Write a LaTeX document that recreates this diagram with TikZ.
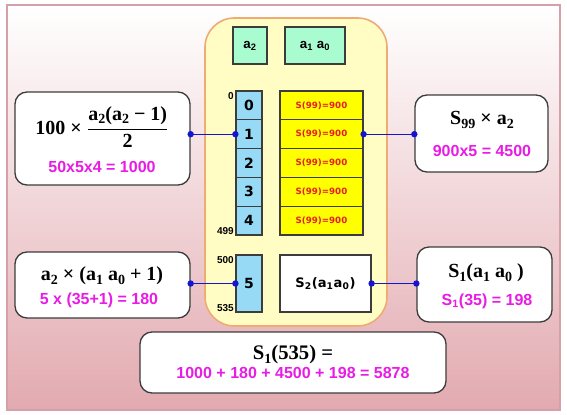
\documentclass[tikz,border=0pt]{standalone}
\usepackage{fontspec}
\usepackage{amsmath}
\newfontfamily\arl{Liberation Sans}
\newfontfamily\srf{Liberation Serif}
\newfontfamily\dvs{DejaVu Sans}
\usetikzlibrary{calc}
\newcommand\mysub[1]{\raisebox{-0.35ex}{\fontsize{10.5}{11}\selectfont #1}}
\definecolor{bgpink}{RGB}{226,170,176}
\definecolor{framecol}{RGB}{214,160,168}
\definecolor{contfill}{RGB}{255,252,196}
\definecolor{contdraw}{RGB}{240,170,115}
\definecolor{mintg}{RGB}{168,252,208}
\definecolor{skyb}{RGB}{150,218,245}
\definecolor{cellyel}{RGB}{255,255,0}
\definecolor{mag}{RGB}{232,28,228}
\definecolor{redt}{RGB}{230,30,30}
\definecolor{conn}{RGB}{20,20,210}
\definecolor{edge}{RGB}{60,60,60}
\tikzset{
  wh/.style 2 args={minimum width=#1*0.75pt, minimum height=#2*0.75pt, inner sep=0pt},
  rbox/.style={draw=edge, line width=1pt, fill=white, rounded corners=9pt},
  gbox/.style={draw=edge, line width=0.9pt, fill=mintg, font=\arl\bfseries\fontsize{10}{12}\selectfont},
  bcell/.style={draw=edge, line width=0.9pt, fill=skyb, wh={26}{28.8}, font=\dvs\bfseries\fontsize{10.5}{12}\selectfont},
  ycell/.style={draw=edge, line width=0.9pt, fill=cellyel, wh={83}{28.8}, text=redt, font=\dvs\bfseries\fontsize{6.5}{8}\selectfont},
  mtxt/.style={font=\srf\bfseries\fontsize{15}{17}\selectfont},
  magt/.style={text=mag, font=\arl\bfseries\fontsize{12}{14}\selectfont},
  lbl/.style={font=\arl\bfseries\fontsize{7.5}{9}\selectfont, inner sep=0pt},
  wire/.style={conn, line width=0.8pt},
  dotc/.style={fill=conn},
}
\begin{document}
\begin{tikzpicture}[x=0.75pt,y=-0.75pt]
\useasboundingbox (0,0) rectangle (567,414);
\fill[white] (0,0) rectangle (567,414);
\draw[framecol, line width=0.8pt, top color=white, bottom color=bgpink] (7,5) rectangle (560,410);

% container
\draw[contdraw, line width=1.2pt, fill=contfill, rounded corners=22pt] (205,18) rectangle (387,326);

% top green boxes
\node[gbox, wh={34}{37}] (ga2) at (250,45.5) {a\textsubscript{2}};
\node[gbox, wh={60}{37}] (ga10) at (315,45.5) {a\textsubscript{1} a\textsubscript{0}};

% blue column and yellow cells
\node[bcell] (c0) at (249,105.4) {0};
\node[bcell] (c1) at (249,134.2) {1};
\node[bcell] (c2) at (249,163.0) {2};
\node[bcell] (c3) at (249,191.8) {3};
\node[bcell] (c4) at (249,220.6) {4};
\node[ycell] (y0) at (321.5,105.4) {S(99)=900};
\node[ycell] (y1) at (321.5,134.2) {S(99)=900};
\node[ycell] (y2) at (321.5,163.0) {S(99)=900};
\node[ycell] (y3) at (321.5,191.8) {S(99)=900};
\node[ycell] (y4) at (321.5,220.6) {S(99)=900};
\node[bcell, wh={26}{57}] (c5) at (249,283.5) {5};
\node[draw=edge, line width=0.9pt, fill=white, wh={91}{57}, font=\dvs\bfseries\fontsize{9.8}{12}\selectfont] (s2) at (325.5,283.5) {S\textsubscript{2}(a\textsubscript{1}a\textsubscript{0})};

% small labels
\node[lbl, anchor=north east] (l0) at (234,92) {0};
\node[lbl, anchor=south east] (l499) at (234,235) {499};
\node[lbl, anchor=north east] (l500) at (234,256) {500};
\node[lbl, anchor=south east] (l535) at (234,312) {535};

% outer boxes
\node[rbox, wh={175}{93}] (L1) at (102.5,138.5) {};
\node[mtxt] (L1m) at (102,127) {100 × $\genfrac{}{}{1.1pt}{0}{\text{\srf\bfseries a\mysub{2}(a\mysub{2} − 1)}}{\text{\srf\bfseries 2}}$};
\node[magt] (L1v) at (102,167) {50x5x4 = 1000};

\node[rbox, wh={133}{77}] (R1) at (481.5,133.5) {};
\node[mtxt] (R1m) at (482,120) {S\mysub{99} × a\mysub{2}};
\node[magt] (R1v) at (482,151) {900x5 = 4500};

\node[rbox, wh={175}{66}] (L2) at (102.5,285) {};
\node[mtxt] (L2m) at (102,276) {a\mysub{2} × (a\mysub{1} a\mysub{0} + 1)};
\node[magt] (L2v) at (99,300) {5 x (35+1) = 180};

\node[rbox, wh={135}{75}] (R2) at (484.5,284.5) {};
\node[mtxt] (R2m) at (486,273) {S\mysub{1}(a\mysub{1} a\mysub{0} )};
\node[magt] (R2v) at (487,301) {S\textsubscript{1}(35) = 198};

\node[rbox, wh={306}{61}] (B) at (293,362.5) {};
\node[mtxt, font=\srf\bfseries\fontsize{15.5}{17}\selectfont] (Bm) at (293,355) {S\mysub{1}(535) =};
\node[magt] (Bv) at (293,373) {1000 + 180 + 4500 + 198 = 5878};

% connectors
\draw[wire] (c1.west -| L1.east) -- (c1.west);
\draw[wire] (y1.east) -- (y1.east -| R1.west);
\draw[wire] (c5.west -| L2.east) -- (c5.west);
\draw[wire] (s2.east) -- (s2.east -| R2.west);
\foreach \p in {{c1.west -| L1.east},{c1.west},{y1.east},{y1.east -| R1.west},{c5.west -| L2.east},{c5.west},{s2.east},{s2.east -| R2.west}}
  \fill[dotc] (\p) circle (3.2);
\end{tikzpicture}
\end{document}
